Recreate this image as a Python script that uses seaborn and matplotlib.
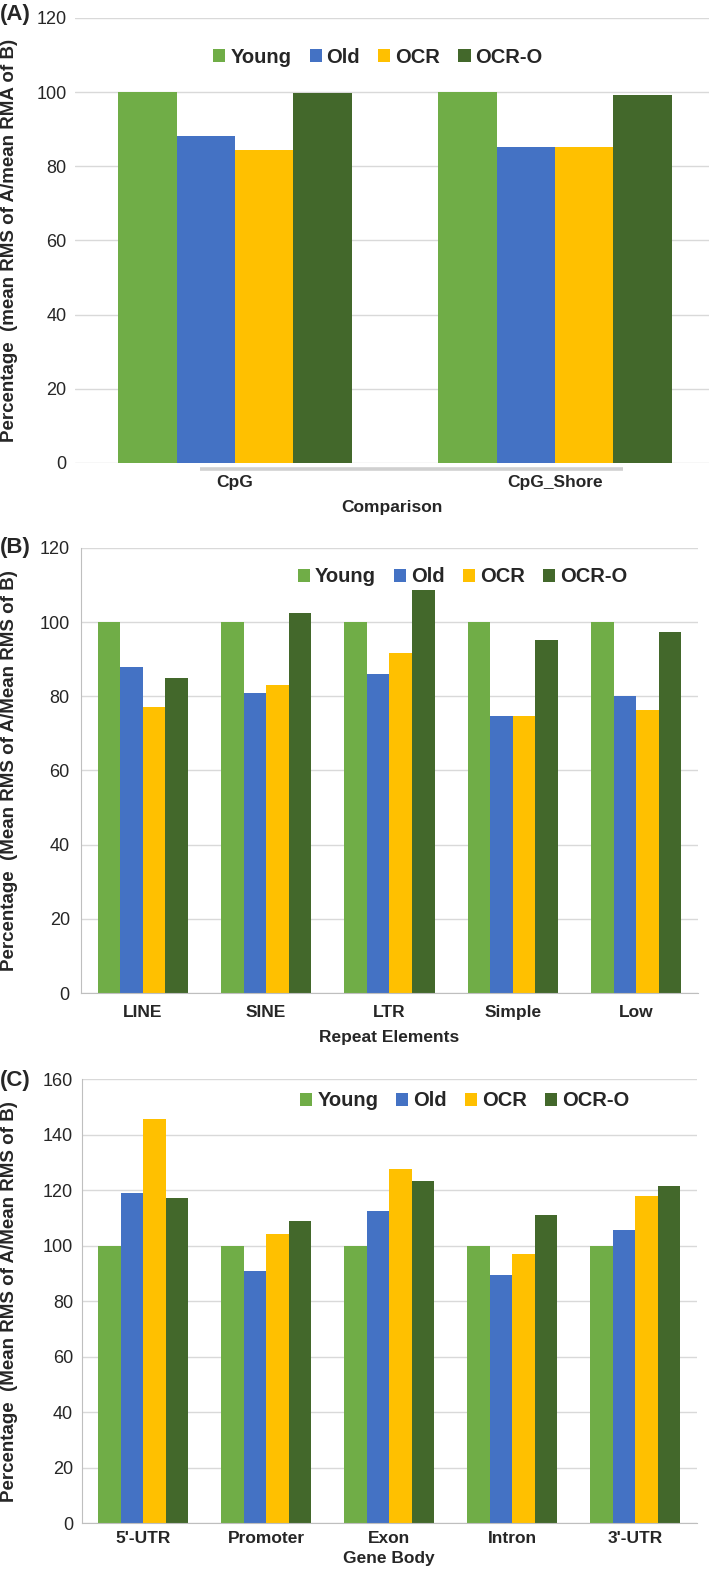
import seaborn as sns
import matplotlib.pyplot as plt
import pandas as pd

# data
groups = ["Young", "Old", "OCR", "OCR-O"]
colors = ["#70AD47", "#4472C4", "#FFC000", "#43682B"]

cat_a = ["CpG", "CpG_Shore"]
young_a = [100, 100]
old_a = [88.2, 85.1]
ocr_a = [84.4, 85.2]
ocro_a = [99.8, 99.2]

cat_b = ["LINE", "SINE", "LTR", "Simple", "Low"]
young_b = [100, 100, 100, 100, 100]
old_b = [87.8, 80.8, 85.9, 74.8, 80.0]
ocr_b = [77.0, 83.0, 91.6, 74.8, 76.2]
ocro_b = [84.9, 102.4, 108.6, 95.1, 97.3]

cat_c = ["5'-UTR", "Promoter", "Exon", "Intron", "3'-UTR"]
young_c = [100, 100, 100, 100, 100]
old_c = [119.1, 91.0, 112.6, 89.5, 105.8]
ocr_c = [145.8, 104.3, 127.7, 97.2, 118.0]
ocro_c = [117.3, 108.9, 123.4, 111.2, 121.7]

sns.set_style("white")
plt.rcParams['font.family'] = ['Liberation Sans', 'DejaVu Sans']


def long_df(cats, *series):
    rows = []
    for g, vals in zip(groups, series):
        for c, v in zip(cats, vals):
            rows.append({"cat": c, "group": g, "val": v})
    return pd.DataFrame(rows)


fig = plt.figure(figsize=(7.09, 15.71), dpi=100)

ax_a = fig.add_axes([0.1058, 0.7053, 0.8942, 0.2833])
ax_b = fig.add_axes([0.1142, 0.3679, 0.8703, 0.2833])
ax_c = fig.add_axes([0.1150, 0.0305, 0.8680, 0.2824])


def draw(ax, df, ymax, ylabel, xlabel, legend_loc, ypad, xpad, lpad=7):
    sns.barplot(data=df, x="cat", y="val", hue="group", palette=colors,
                width=0.73, ax=ax, saturation=1, errorbar=None,
                linewidth=0, edgecolor="none")
    ax.set_ylim(0, ymax)
    ax.set_yticks(range(0, ymax + 1, 20))
    ax.yaxis.grid(True, color="#D9D9D9", linewidth=1)
    ax.set_axisbelow(True)
    for s in ["top", "right"]:
        ax.spines[s].set_visible(False)
    ax.spines["left"].set_color("#BFBFBF")
    ax.spines["bottom"].set_color("#BFBFBF")
    ax.tick_params(axis="y", labelsize=13, length=0, pad=ypad)
    ax.tick_params(axis="x", labelsize=12.5, length=0, pad=xpad)
    for t in ax.get_xticklabels():
        t.set_fontweight("bold")
    ax.set_ylabel(ylabel, fontsize=13.5, fontweight="bold")
    ax.set_xlabel(xlabel, fontsize=12.5, fontweight="bold", labelpad=lpad)
    ax.legend(loc="center", bbox_to_anchor=legend_loc, ncol=4, frameon=False,
              handlelength=0.6, handleheight=0.6, handletextpad=0.25,
              columnspacing=0.9, prop={"weight": "bold", "size": 14.5})


draw(ax_a, long_df(cat_a, young_a, old_a, ocr_a, ocro_a), 120,
     "Percentage  (mean RMS of A/mean RMA of B)", "Comparison",
     (0.478, 0.912), 6, 8.5)
ax_a.set_xlim(-0.5, 1.481)
ax_a.spines["left"].set_visible(False)
ax_a.spines["bottom"].set_visible(False)
ax_a.plot([0.197, 0.864], [-0.0135, -0.0135], transform=ax_a.transAxes,
          color="#D0D0D0", linewidth=2.6, clip_on=False, solid_capstyle="butt")
ax_a.yaxis.set_label_coords(-0.09, 0.5)

draw(ax_b, long_df(cat_b, young_b, old_b, ocr_b, ocro_b), 120,
     "Percentage  (Mean RMS of A/Mean RMS of B)", "Repeat Elements",
     (0.618, 0.935), 8, 8.5)
ax_b.set_xlim(-0.5, 4.5)
ax_b.yaxis.set_label_coords(-0.102, 0.5)

draw(ax_c, long_df(cat_c, young_c, old_c, ocr_c, ocro_c), 160,
     "Percentage  (Mean RMS of A/Mean RMS of B)", "Gene Body",
     (0.623, 0.952), 6, 6.0, lpad=3)
ax_c.set_xlim(-0.5, 4.5)
ax_c.yaxis.set_label_coords(-0.103, 0.5)

fig.text(0.0, 0.9905, "(A)", fontsize=16, fontweight="bold", va="center")
fig.text(0.0, 0.6515, "(B)", fontsize=16, fontweight="bold", va="center")
fig.text(0.0, 0.3125, "(C)", fontsize=16, fontweight="bold", va="center")

plt.savefig("out.png", dpi=100)
